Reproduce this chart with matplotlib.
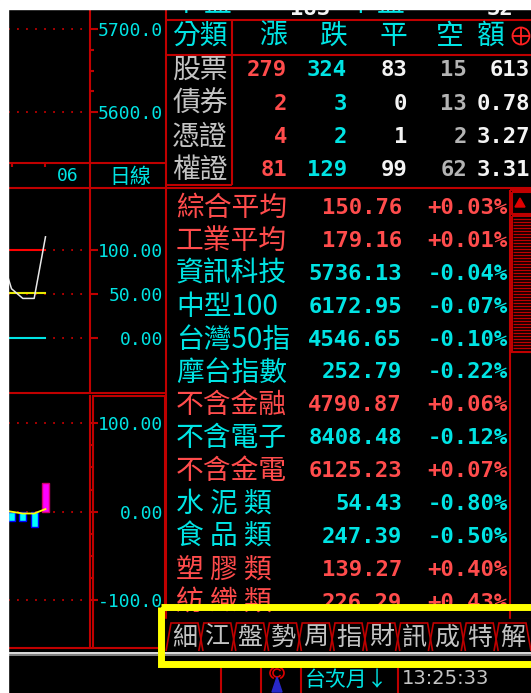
import numpy as np
import matplotlib
matplotlib.use('Agg')
import matplotlib.pyplot as plt
from matplotlib.patches import Rectangle, Polygon, Circle, Arc

# ============================================
# Datos
# ============================================
# tabla de estadísticas (漲/跌/平)
stat_rows = ['股票', '債券', '憑證', '權證']
stat_heads = ['漲', '跌', '平', '空', '額']
n_up = [279, 2, 4, 81]
n_down = [324, 3, 2, 129]
n_flat = [83, 0, 1, 99]
n_none = [15, 13, 2, 62]
amounts = ['613', '0.78', '3.27', '3.31']

# lista de índices
idx_names = ['綜合平均', '工業平均', '資訊科技', '中型100', '台灣50指', '摩台指數',
             '不含金融', '不含電子', '不含金電', '水 泥 類', '食 品 類', '塑 膠 類', '紡 織 類']
idx_values = [150.76, 179.16, 5736.13, 6172.95, 4546.65, 252.79,
              4790.87, 8408.48, 6125.23, 54.43, 247.39, 139.27, 226.29]
idx_pct = [0.03, 0.01, -0.04, -0.07, -0.10, -0.22,
           0.06, -0.12, 0.07, -0.80, -0.50, 0.40, 0.43]

tabs = ['細', '江', '盤', '勢', '周', '指', '財', '訊', '成', '特', '解']

# fila superior (recortada)
top_strip = [('下', 186, 'c'), ('盤', 217, 'c'), ('183', 310, 'w'),
             ('平', 360, 'c'), ('盤', 390, 'c'), ('32', 500, 'w')]

# gráficos pequeños de la izquierda
price_ticks = [5700, 5600]
price_labels = ['5700.0', '5600.0']
kd_ticks = [100, 50, 0]
kd_labels = ['100.00', '50.00', '0.00']
osc_ticks = [100, 0, -100]
osc_labels = ['100.00', '0.00', '-100.0']

days = [-1, 0, 1, 2, 3]
k_line = [98, 56, 45, 45, 115]
line_100 = [100, 100, 100, 100, 100]
line_50 = [51, 51, 51, 51, 51]
line_0 = [0, 0, 0, 0, 0]

bar_days = [0, 1, 2, 3]
osc = [-11, -10, -17, 32]
signal = [2, 0, -2, -2, 3]

# ============================================
# Estilo
# ============================================
W, H = 531, 693
CJK = ['Noto Sans CJK TC', 'DejaVu Sans']
MONO = 'DejaVu Sans Mono'
RED_LINE = '#c00000'
CYAN = '#00e4e4'
RED_TXT = '#ff4c4c'
GRAY = '#c4c4c4'
WHITE = '#f4f4f4'
LW = 1.5

fig = plt.figure(figsize=(W / 100, H / 100), dpi=100, facecolor='black')


def px_axes(x0, y0, x1, y1):
    return fig.add_axes([x0 / W, 1 - y1 / H, (x1 - x0) / W, (y1 - y0) / H])


day_lim = ((8 - 11.5) / 11.33, (90 - 11.5) / 11.33)


def chart_axes(y0, y1, ylim, ticks, labels, minor=None):
    a = px_axes(8, y0, 90, y1)
    a.set_facecolor('none')
    a.set_zorder(1)
    a.set_xlim(*day_lim)
    a.set_ylim(*ylim)
    for s in ['left', 'top', 'bottom']:
        a.spines[s].set_visible(False)
    a.spines['right'].set_color(RED_LINE)
    a.spines['right'].set_linewidth(LW)
    a.yaxis.tick_right()
    a.set_xticks([])
    a.set_yticks(ticks)
    a.set_yticklabels(labels, fontfamily=MONO, fontsize=13, color=CYAN, ha='right')
    if minor:
        a.set_yticks(minor, minor=True)
    a.tick_params(axis='y', which='major', direction='out', length=5.5, width=LW,
                  color=RED_LINE, pad=47)
    a.tick_params(axis='y', which='minor', direction='out', length=3, width=LW,
                  color=RED_LINE)
    for v in ticks:
        a.axhline(v, color=RED_LINE, lw=1.3, ls=(0, (1, 4)), zorder=0.5)
    return a


# gráfico de precio (sin datos visibles)
ax1 = chart_axes(9, 163, (5538.6, 5724.1), price_ticks, price_labels,
                 minor=[5625, 5650, 5675])
ax1.set_xticks([0, 3])
ax1.set_xticklabels([])
ax1.tick_params(axis='x', direction='out', length=3, width=LW, color=RED_LINE)

# KD
ax2 = chart_axes(188, 393, (-62.5, 170.5), kd_ticks, kd_labels)
ax2.plot(days, line_100, color='#ff0000', lw=1.5)
ax2.plot(days, line_50, color='#e8e800', lw=1.5)
ax2.plot(days, line_0, color=CYAN, lw=1.5)
ax2.plot(days, k_line, color='#e8e8e8', lw=1.1)

# oscilador
ax3 = chart_axes(396, 648, (-153.7, 130.5), osc_ticks, osc_labels,
                 minor=[75, 50, 25, -25, -50, -75])
bar_col = ['#ff00ff' if v > 0 else '#00ffff' for v in osc]
bar_edge = ['#d00070' if v > 0 else '#0000ff' for v in osc]
ax3.bar(bar_days, osc, width=0.62, color=bar_col, edgecolor=bar_edge, lw=1, zorder=2)
ax3.plot(days, signal, color='#ffff00', lw=1.3, zorder=3)

# ============================================
# Capa superior: marcos, tablas, textos
# ============================================
ov = px_axes(0, 0, W, H)
ov.set_xlim(0, W)
ov.set_ylim(H, 0)
ov.axis('off')
ov.set_zorder(3)


def hl(y, x0, x1, **kw):
    ov.plot([x0, x1], [y, y], color=kw.pop('color', RED_LINE), lw=kw.pop('lw', LW),
            solid_capstyle='butt', **kw)


def vl(x, y0, y1, **kw):
    ov.plot([x, x], [y0, y1], color=kw.pop('color', RED_LINE), lw=kw.pop('lw', LW),
            solid_capstyle='butt', **kw)


hl(20, 166, W)
hl(55, 166, W)
vl(232, 20, 185)
hl(185, 166, 232)
hl(163, 8, 166)
hl(188, 8, W)
vl(90, 163, 188)
vl(166, 9, 652)
hl(393, 8, 166)
hl(648, 8, 93)
ov.add_patch(Rectangle((93, 396), 72, 252, fill=False, edgecolor=RED_LINE, lw=LW))

ov.text(57, 176, '06', color=CYAN, family=MONO, fontsize=13, va='center')
ov.text(130, 177, '日線', color=CYAN, family=CJK, fontsize=15, ha='center', va='center')

# fila superior recortada
for s, x, c in top_strip:
    if c == 'c':
        ov.text(x, 3, s, color=CYAN, family=CJK, fontsize=20, ha='center', va='center')
    else:
        ov.text(x, 9, s, color=WHITE, family=MONO, fontsize=16, fontweight='bold',
                ha='center', va='center')

# tabla 漲跌
ov.text(200, 36, '分類', color=CYAN, family=CJK, fontsize=20, ha='center', va='center')
for h, x in zip(stat_heads, [273, 333, 393, 450, 490]):
    ov.text(x, 36, h, color=CYAN, family=CJK, fontsize=20, ha='center', va='center')
ov.add_patch(Circle((521, 36), 8.5, fill=False, edgecolor='#ff2020', lw=1.3))
hl(36, 512.5, 529.5, color='#ff2020', lw=1.3)
vl(521, 27.5, 44.5, color='#ff2020', lw=1.3)

row_y = [70, 104, 137, 170]
cols = [(n_up, 287, RED_TXT), (n_down, 347, CYAN), (n_flat, 407, WHITE),
        (n_none, 467, '#b4b4b4'), (amounts, 530, WHITE)]
for i, y in enumerate(row_y):
    ov.text(200, y, stat_rows[i], color=GRAY, family=CJK, fontsize=20,
            ha='center', va='center')
    for vals, x, c in cols:
        ov.text(x, y, str(vals[i]), color=c, family=MONO, fontsize=16,
                fontweight='bold', ha='right', va='center')

# lista de índices
for i, (name, val, pct) in enumerate(zip(idx_names, idx_values, idx_pct)):
    y = 208 + 32.9 * i
    c = RED_TXT if pct > 0 else CYAN
    ov.text(176, y, name, color=c, family=CJK, fontsize=20, ha='left', va='center')
    ov.text(402, y, f'{val:.2f}', color=c, family=MONO, fontsize=16,
            fontweight='bold', ha='right', va='center')
    ov.text(508, y, f'{pct:+.2f}%', color=c, family=MONO, fontsize=16,
            fontweight='bold', ha='right', va='center')

# barra de desplazamiento
ov.add_patch(Rectangle((510, 190), 30, 430, fill=False, edgecolor=RED_LINE, lw=LW))
ov.add_patch(Rectangle((512, 192), 30, 22, fill=False, edgecolor=RED_LINE, lw=LW))
ov.add_patch(Polygon([(515, 207), (525, 207), (520, 198)], color='#e00000'))
ov.add_patch(Rectangle((512, 216), 30, 136, fill=False, edgecolor=RED_LINE, lw=LW))
ov.hlines(np.arange(219, 351, 3), 513, W, color=RED_LINE, lw=1)

# pestañas inferiores
ov.add_patch(Rectangle((160, 619), 380, 33, color='black', zorder=4))
for i, t in enumerate(tabs):
    x0 = 168 + 32.8 * i
    ov.add_patch(Polygon([(x0 - 2, 651), (x0 + 3, 623), (x0 + 30, 623), (x0 + 35, 651)],
                         closed=False, fill=False, edgecolor=RED_LINE, lw=1.2, zorder=4.5))
    ov.text(x0 + 16.5, 638, t, color=GRAY, family=CJK, fontsize=18,
            ha='center', va='center', zorder=5)
hl(652.5, 8, W, color='#f0f0f0', lw=1.3, zorder=5)
hl(655, 8, W, color='#8c8c8c', lw=1.3, zorder=5)
ov.add_patch(Rectangle((160.5, 607), 400, 56.5, fill=False, edgecolor='#ffff00',
                       lw=5, zorder=6))

# barra de estado
for x in [221, 261, 301, 398]:
    vl(x, 667, H)
ov.add_patch(Polygon([(272, 692), (282, 692), (277, 677)], color='#2828c8', zorder=4))
ov.add_patch(Arc((277, 673), 8, 8, theta1=30, theta2=330, color='#e00000', lw=1.2))
ov.add_patch(Arc((277, 673), 14, 12, theta1=120, theta2=240, color='#e00000', lw=1.2))
ov.add_patch(Arc((277, 673), 14, 12, theta1=-60, theta2=60, color='#e00000', lw=1.2))
ov.text(305, 680, '台次月↓', color=CYAN, family=CJK, fontsize=15, va='center')
ov.text(402, 679, '13:25:33', color=GRAY, family=['Liberation Sans Narrow', 'DejaVu Sans'],
        fontsize=14, va='center')

# márgenes blancos
ov.add_patch(Rectangle((0, 0), W, 9, color='white', zorder=10))
ov.add_patch(Rectangle((0, 0), 8, H, color='white', zorder=10))

fig.savefig('out.png', dpi=100, facecolor=fig.get_facecolor())
